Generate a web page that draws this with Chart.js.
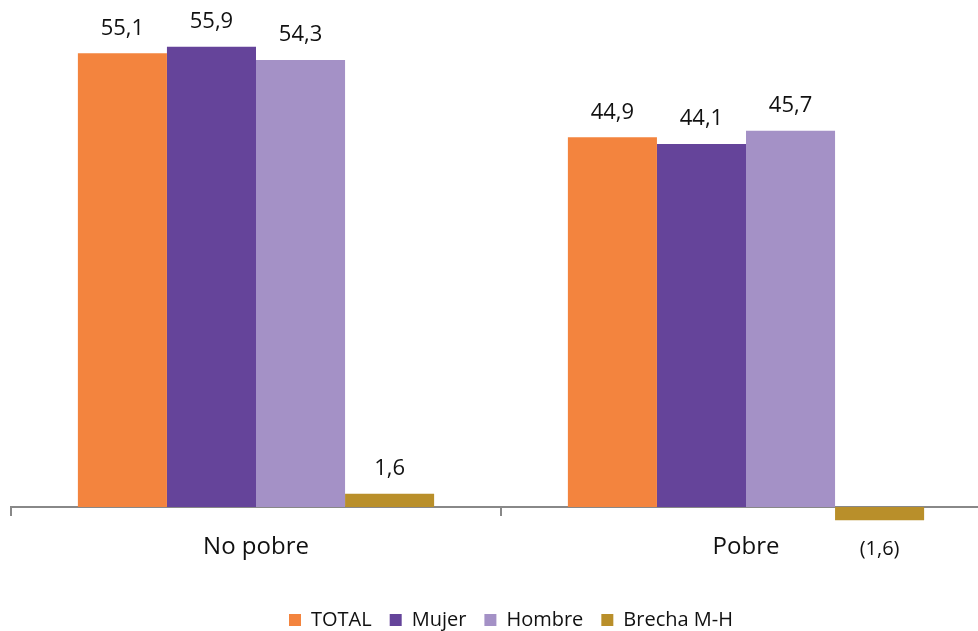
<!DOCTYPE html>
<html>
<head>
<meta charset="utf-8">
<script src="https://cdn.jsdelivr.net/npm/chart.js@4"></script>
<style>
  html, body { margin: 0; padding: 0; background: #fff; overflow: hidden; }
  #wrap { width: 1000px; height: 640px; position: relative; }
</style>
</head>
<body>
<div id="wrap"><canvas id="povertyChart"></canvas></div>
<script>
const categories = ["No pobre", "Pobre"];
const seriesNames = ["TOTAL", "Mujer", "Hombre", "Brecha M-H"];
const totalValues = [55.1, 44.9];
const mujerValues = [55.9, 44.1];
const hombreValues = [54.3, 45.7];
const brechaValues = [1.6, -1.6];
const barColors = ["#f3843e", "#65449a", "#a491c6", "#b98f2a"];

const fmt = v => {
  const s = Math.abs(v).toFixed(1).replace(".", ",");
  return v < 0 ? "(" + s + ")" : s;
};

// value labels above / below each bar
const barLabels = {
  id: "barLabels",
  afterDatasetsDraw(chart) {
    const ctx = chart.ctx;
    ctx.save();
    ctx.fillStyle = "#111";
    ctx.textAlign = "center";
    ctx.textBaseline = "middle";
    chart.data.datasets.forEach((ds, i) => {
      chart.getDatasetMeta(i).data.forEach((bar, j) => {
        const v = ds.data[j];
        if (v >= 0) {
          ctx.font = '22px "Open Sans"';
          ctx.fillText(fmt(v), bar.x, bar.y - 25);
        } else {
          ctx.font = '20px "Open Sans"';
          ctx.fillText(fmt(v), bar.x, bar.y + 29);
        }
      });
    });
    ctx.restore();
  }
};

// legend sits a little right of centre in the original
const nudgeLegend = {
  id: "nudgeLegend",
  afterLayout(chart) {
    chart.legend.left += 10;
    chart.legend.right += 10;
  }
};

const allSeries = [totalValues, mujerValues, hombreValues, brechaValues];

new Chart("povertyChart", {
  type: "bar",
  data: {
    labels: categories,
    datasets: allSeries.map((vals, i) => ({
      label: seriesNames[i],
      data: vals,
      backgroundColor: barColors[i],
      borderWidth: 0,
      categoryPercentage: 0.727,
      barPercentage: 1
    }))
  },
  plugins: [barLabels, nudgeLegend],
  options: {
    responsive: true,
    maintainAspectRatio: false,
    animation: false,
    layout: { padding: { left: 11, right: 9, top: 13, bottom: 0 } },
    scales: {
      x: {
        position: { y: 0 },
        grid: {
          display: true,
          drawOnChartArea: false,
          drawTicks: true,
          tickLength: 8,
          color: "#888",
          lineWidth: 2
        },
        border: { display: true, color: "#888", width: 2 },
        ticks: {
          color: "#111",
          padding: 18,
          font: { family: "Open Sans", size: 24 }
        }
      },
      y: {
        display: false,
        min: -10.33,
        max: 60
      }
    },
    plugins: {
      legend: {
        position: "bottom",
        labels: {
          boxWidth: 12,
          boxHeight: 12,
          padding: 18,
          color: "#111",
          font: { family: "Open Sans", size: 20 }
        }
      },
      tooltip: { enabled: false }
    }
  }
});
</script>
</body>
</html>
